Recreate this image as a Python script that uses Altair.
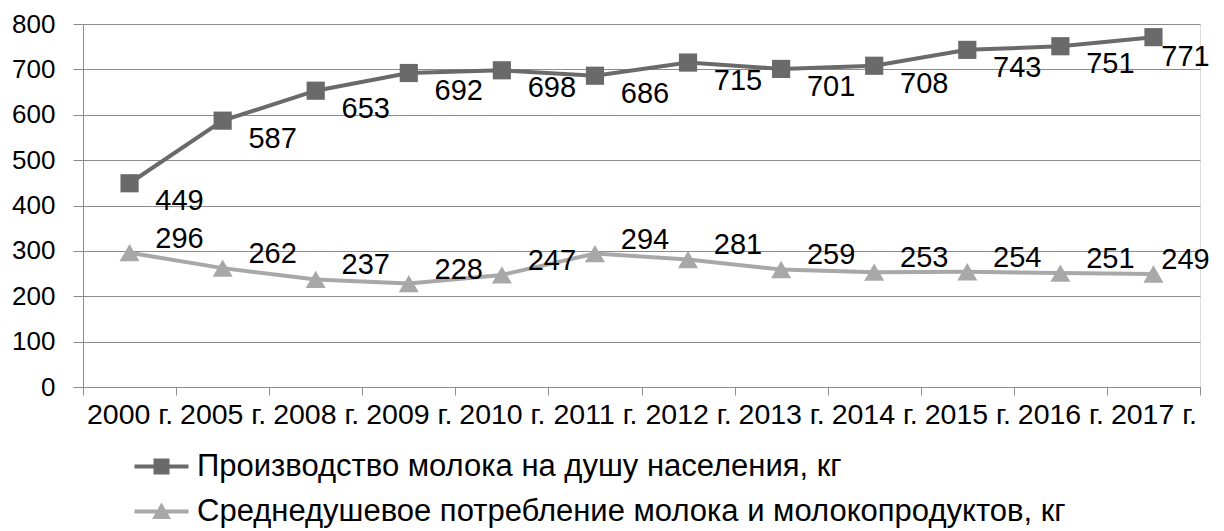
import altair as alt
import pandas as pd

years = ["2000 г.", "2005 г.", "2008 г.", "2009 г.", "2010 г.", "2011 г.",
         "2012 г.", "2013 г.", "2014 г.", "2015 г.", "2016 г.", "2017 г."]
production = [449, 587, 653, 692, 698, 686, 715, 701, 708, 743, 751, 771]
consumption = [296, 262, 237, 228, 247, 294, 281, 259, 253, 254, 251, 249]
series_names = ["Производство молока на душу населения, кг",
                "Среднедушевое потребление молока и молокопродуктов, кг"]
series_colors = ["#6a6a6a", "#a8a8a8"]

rows = []
for y, v in zip(years, production):
    rows.append({"year": y, "series": series_names[0], "value": v})
for y, v in zip(years, consumption):
    rows.append({"year": y, "series": series_names[1], "value": v})
df = pd.DataFrame(rows)

FONT = "Liberation Sans"
GRID = "#8c8c8c"

color_scale = alt.Scale(domain=series_names, range=series_colors)

x_enc = alt.X("year:N", sort=years, bandPosition=0.5,
              scale=alt.Scale(type="band", paddingInner=0, paddingOuter=0),
              axis=alt.Axis(title=None, labelFont=FONT, labelFontSize=28.5, labelColor="#000000",
                            labelAngle=0, labelPadding=5, tickBand="extent", tickSize=8,
                            tickColor=GRID, domainColor=GRID, labelOverlap=False, grid=False))
y_enc = alt.Y("value:Q", scale=alt.Scale(domain=[0, 800]),
              axis=alt.Axis(title=None, values=list(range(0, 801, 100)), labelFont=FONT,
                            labelFontSize=26, labelColor="#000000", labelPadding=18,
                            tickSize=10, tickColor=GRID, domainColor=GRID,
                            gridColor=GRID, grid=True))

base = alt.Chart(df).encode(
    x=x_enc, y=y_enc,
    color=alt.Color("series:N", scale=color_scale, legend=None),
)

line = base.mark_line(strokeWidth=4)

pts_top = base.transform_filter(alt.datum.series == series_names[0]).mark_point(
    shape="square", filled=True, opacity=1, size=330)
pts_bot = base.transform_filter(alt.datum.series == series_names[1]).mark_point(
    shape="triangle-up", filled=True, opacity=1, size=400)

def labels(name, dx, dy, last):
    cond = (alt.datum.year == years[-1]) if last else (alt.datum.year != years[-1])
    return alt.Chart(df).transform_filter(alt.datum.series == name).transform_filter(cond).mark_text(
        font=FONT, fontSize=29, color="#000000", align="center", baseline="middle",
        dx=dx, dy=dy
    ).encode(x=x_enc, y=y_enc, text=alt.Text("value:Q"))

lab_top = labels(series_names[0], 50, 18, False)
lab_top_last = labels(series_names[0], 32, 20, True)
lab_bot = labels(series_names[1], 50, -14, False)
lab_bot_last = labels(series_names[1], 32, -14, True)

path_sq = "M-2.7,-0.2H2.7V0.2H-2.7Z M-0.8,-0.8H0.8V0.8H-0.8Z"
path_tri = "M-2.7,-0.2H2.7V0.2H-2.7Z M0,-0.9L0.95,0.75H-0.95Z"

leg = alt.Legend(title=None, orient="none", legendX=63, legendY=427, direction="vertical",
                 labelFont=FONT, labelFontSize=31, labelColor="#000000", labelOffset=20,
                 symbolSize=400, symbolStrokeWidth=0, rowPadding=13, padding=0,
                 labelLimit=1200)

legend_layer = alt.Chart(df).transform_filter("false").mark_point(filled=True, opacity=1).encode(
    color=alt.Color("series:N", scale=color_scale, legend=leg),
    shape=alt.Shape("series:N", scale=alt.Scale(domain=series_names, range=[path_sq, path_tri]),
                    legend=leg),
)

chart = alt.layer(line, pts_top, pts_bot, lab_top, lab_top_last, lab_bot, lab_bot_last,
                  legend_layer).resolve_scale(color="independent", shape="independent").properties(
    width=1117, height=363,
    autosize=alt.AutoSizeParams(type="none"),
    padding={"left": 75, "top": 16, "right": 16, "bottom": 144},
).configure_view(stroke=None).configure(background="#ffffff")

chart.save("out.html", embed_options={"renderer": "svg", "actions": False})
